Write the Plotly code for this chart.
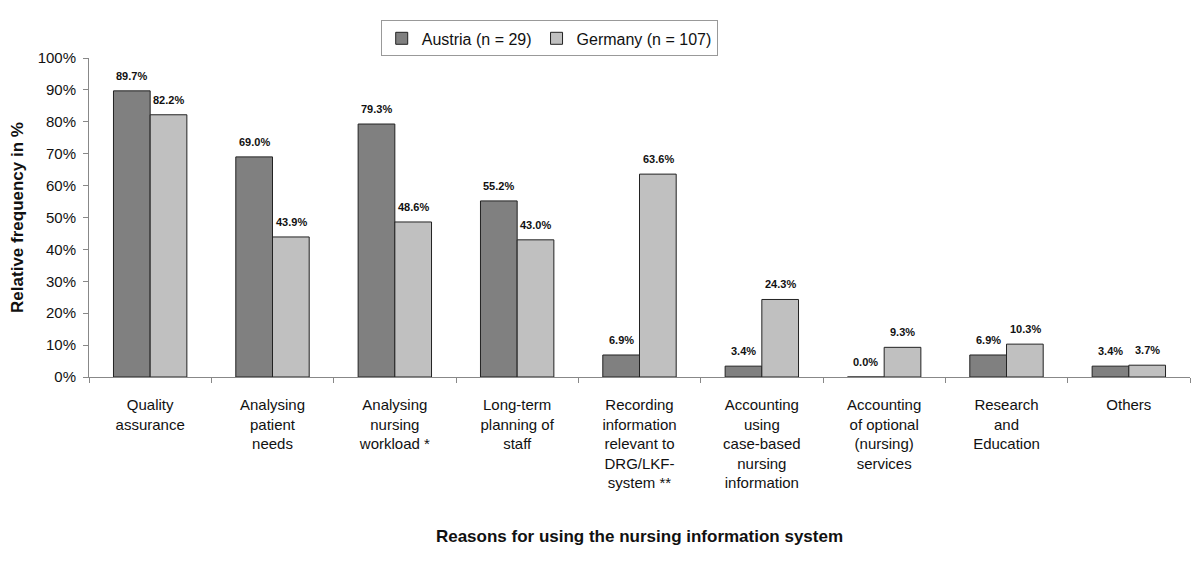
import plotly.graph_objects as go

categories = [
    "Quality<br>assurance",
    "Analysing<br>patient<br>needs",
    "Analysing<br>nursing<br>workload *",
    "Long-term<br>planning of<br>staff",
    "Recording<br>information<br>relevant to<br>DRG/LKF-<br>system **",
    "Accounting<br>using<br>case-based<br>nursing<br>information",
    "Accounting<br>of optional<br>(nursing)<br>services",
    "Research<br>and<br>Education",
    "Others",
]
austria = [89.7, 69.0, 79.3, 55.2, 6.9, 3.4, 0.0, 6.9, 3.4]
germany = [82.2, 43.9, 48.6, 43.0, 63.6, 24.3, 9.3, 10.3, 3.7]

FONT = "Liberation Sans, Arial, sans-serif"
AUSTRIA_COLOUR = "#808080"
GERMANY_COLOUR = "#c0c0c0"

fig = go.Figure()
fig.add_trace(
    go.Bar(
        x=categories,
        y=austria,
        name="Austria (n = 29)",
        marker=dict(color=AUSTRIA_COLOUR, line=dict(color="#222", width=1)),
    )
)
fig.add_trace(
    go.Bar(
        x=categories,
        y=germany,
        name="Germany (n = 107)",
        marker=dict(color=GERMANY_COLOUR, line=dict(color="#222", width=1)),
    )
)

# value labels above the bars
for values, shift in [(austria, -18.5), (germany, 18.5)]:
    for cat, v in zip(categories, values):
        fig.add_annotation(
            x=cat,
            y=v,
            text=f"<b>{v:.1f}%</b>",
            showarrow=False,
            xshift=shift,
            yshift=7,
            yanchor="bottom",
            font=dict(size=11, color="#111", family=FONT),
        )

# the page adds an 8px body margin, so the figure is drawn a little smaller
fig.update_layout(
    width=1184,
    height=552,
    margin=dict(l=81, r=2, t=50, b=183),
    plot_bgcolor="white",
    paper_bgcolor="white",
    font=dict(family=FONT, size=15, color="#111"),
    barmode="group",
    bargap=0.4,
    bargroupgap=0,
    legend=dict(
        orientation="h",
        x=0.418,
        y=1.005,
        xanchor="center",
        yanchor="bottom",
        bordercolor="#999",
        borderwidth=1,
        font=dict(size=16),
        itemwidth=30,
        traceorder="normal",
    ),
    showlegend=True,
)
fig.update_yaxes(
    range=[0, 100],
    dtick=10,
    ticksuffix="%",
    showgrid=False,
    showline=True,
    linecolor="#888",
    ticks="outside",
    tickcolor="#888",
    ticklen=5,
    ticklabelstandoff=4,
    automargin=False,
    title=dict(text="<b>Relative frequency in %</b>", font=dict(size=17), standoff=14),
    zeroline=False,
)
fig.update_xaxes(
    showline=True,
    linecolor="#888",
    ticks="outside",
    tickcolor="#888",
    ticklen=5,
    tickson="boundaries",
    tickangle=0,
    ticklabelstandoff=14,
    automargin=False,
    title=dict(
        text="<b>Reasons for using the nursing information system</b>",
        font=dict(size=17),
        standoff=40,
    ),
)

fig.write_html("out.html")
